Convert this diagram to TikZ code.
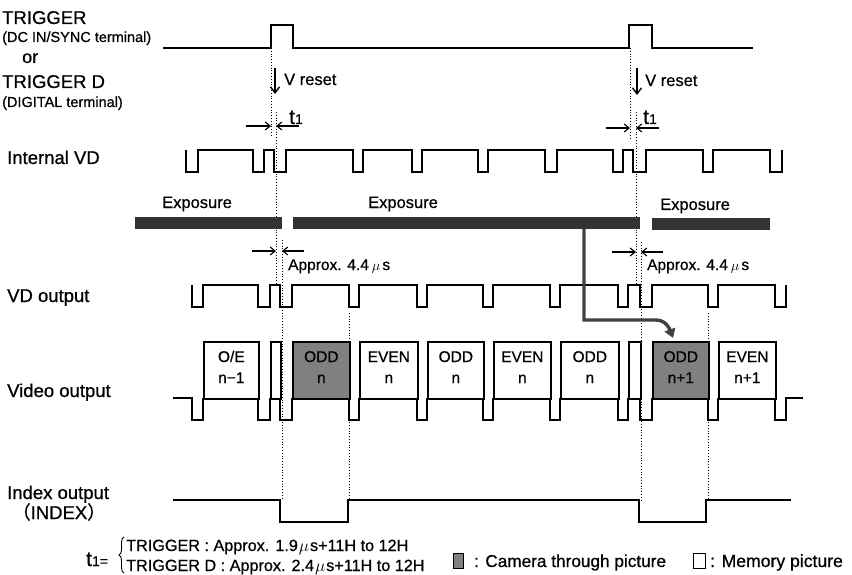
\documentclass[tikz,border=0pt]{standalone}
\usepackage{fontspec}
\setmainfont{Liberation Sans}[UprightFeatures={FakeBold=0.7}]
\newfontfamily\cjkfont{Noto Sans CJK JP}[FakeBold=0.7]
\usetikzlibrary{arrows.meta,decorations.pathreplacing}
\newcommand\myfs[1]{\fontsize{#1}{#1}\selectfont}
\begin{document}
\begin{tikzpicture}[x=1pt,y=-1pt,
  wave/.style={line width=1.7pt, line join=miter},
  guide/.style={line width=0.8pt, dotted},
  dimarrow/.style={line width=1.1pt, -{Straight Barb[length=5pt,width=8pt]}},
  lbl/.style={inner sep=0pt, anchor=base west, font=\myfs{18.5}},
  sml/.style={inner sep=0pt, anchor=base west, font=\myfs{14.5}},
  mid/.style={inner sep=0pt, anchor=base west, font=\myfs{16.5}},
  boxtxt/.style={inner sep=0pt, anchor=base, font=\myfs{15.5}},
  vbox/.style={draw, line width=1.7pt, inner sep=0pt, anchor=north west, minimum height=57},
  shaded/.style={vbox, fill=black!50},
  expobar/.style={fill=black!80, inner sep=0pt, minimum height=12, anchor=north west},
  fatarrow/.style={line width=3.4pt, draw=black!75, -{Triangle[length=9pt,width=11pt]}}
]
\useasboundingbox (0,0) rectangle (852,575);

% ---------- left labels ----------
\node[lbl, font=\myfs{18.5}] (lTrig) at (2,24) {TRIGGER};
\node[sml] (lDC) at (2,42) {(DC IN/SYNC terminal)};
\node[lbl, font=\myfs{18}] (lOr) at (22,63) {or};
\node[lbl, font=\myfs{18.5}] (lTrigD) at (2,88) {TRIGGER D};
\node[sml] (lDig) at (2,107) {(DIGITAL terminal)};
\node[lbl] (lIVD) at (7,164) {Internal VD};
\node[lbl] (lVD) at (7,302) {VD output};
\node[lbl] (lVid) at (7,397) {Video output};
\node[lbl] (lIdx) at (7,499) {Index output};
\node[lbl] (lIdx2) at (12,519) {{\cjkfont （}INDEX{\cjkfont ）}};

% ---------- trigger ----------
\draw[wave] (163,48) -| (271,25) -| (293,48) -| (629,25) -| (652,48) -- (753,48);

% ---------- guide lines ----------
\draw[guide] (271,48) -- (271,136);
\draw[guide] (276,112) -- (276,285);
\draw[guide] (282,240) -- (282,500);
\draw[guide] (349,313) -- (349,500);
\draw[guide] (630,48) -- (630,138);
\draw[guide] (636,112) -- (636,285);
\draw[guide] (641,242) -- (641,500);
\draw[guide] (708,313) -- (708,500);

% ---------- V reset ----------
\coordinate (vr1s) at (275,68); \coordinate (vr1e) at (275,94);
\draw[line width=1.4pt, -{Straight Barb[length=6pt,width=9pt]}] (vr1s) -- (vr1e);
\node[mid] (vr1) at (284,85) {V reset};
\coordinate (vr2s) at (637,68); \coordinate (vr2e) at (637,95);
\draw[line width=1.4pt, -{Straight Barb[length=6pt,width=9pt]}] (vr2s) -- (vr2e);
\node[mid] (vr2) at (645,86) {V reset};

% ---------- t1 ----------
\coordinate (ta1) at (246,126); \coordinate (tb1) at (271,126);
\coordinate (tc1) at (299,126); \coordinate (td1) at (276,126);
\draw[dimarrow] (ta1) -- (tb1);
\draw[dimarrow] (tc1) -- (td1);
\node[inner sep=0pt, anchor=base west] (t1a) at (289,124) {\myfs{21}t\myfs{14}1};
\coordinate (ta2) at (606,128); \coordinate (tb2) at (630,128);
\coordinate (tc2) at (659,128); \coordinate (td2) at (636,128);
\draw[dimarrow] (ta2) -- (tb2);
\draw[dimarrow] (tc2) -- (td2);
\node[inner sep=0pt, anchor=base west] (t1b) at (643,124) {\myfs{21}t\myfs{14}1};

% ---------- internal VD ----------
\draw[wave] (186,150) |- (198,172) |- (253,150) |- (264,172) |- (274,150) |- (286,172)
  |- (353,150) |- (363,172) |- (412,150) |- (422,172) |- (478,150) |- (488,172)
  |- (545,150) |- (557,172) |- (613,150) |- (623,172) |- (633,150) |- (646,172)
  |- (703,150) |- (713,172) |- (770,150) |- (782,172) -- (782,150);

% ---------- exposure ----------
\node[mid] (ex1) at (162,208) {Exposure};
\node[mid] (ex2) at (368,208) {Exposure};
\node[mid] (ex3) at (660,210) {Exposure};
\node[expobar, minimum width=147] (e1) at (135,217) {};
\node[expobar, minimum width=347] (e2) at (293,217) {};
\node[expobar, minimum width=118] (e3) at (652,218) {};

% ---------- approx 4.4 us ----------
\coordinate (aa1) at (252,251); \coordinate (ab1) at (276,251);
\coordinate (ac1) at (304,251); \coordinate (ad1) at (282,251);
\draw[dimarrow] (aa1) -- (ab1);
\draw[dimarrow] (ac1) -- (ad1);
\node[mid, font=\myfs{15.5}] (ap1) at (288,270) {Approx. 4.4\hspace{3pt}$\mu$\hspace{2pt}s};
\coordinate (aa2) at (612,252); \coordinate (ab2) at (636,252);
\coordinate (ac2) at (663,252); \coordinate (ad2) at (641,252);
\draw[dimarrow] (aa2) -- (ab2);
\draw[dimarrow] (ac2) -- (ad2);
\node[mid, font=\myfs{15.5}] (ap2) at (647,270) {Approx. 4.4\hspace{3pt}$\mu$\hspace{2pt}s};

% ---------- VD output ----------
\draw[wave] (192,285) |- (203,307) |- (258,285) |- (270,307) |- (280,285) |- (292,307)
  |- (349,285) |- (359,307) |- (417,285) |- (427,307) |- (483,285) |- (493,307)
  |- (550,285) |- (560,307) |- (618,285) |- (628,307) |- (640,285) |- (652,307)
  |- (708,285) |- (718,307) |- (775,285) |- (786,307) -- (786,285);

% ---------- video output ----------
\draw[wave] (173,398) -| (192,420) -| (203,398);
\foreach \r/\l in {258/270,280/292,349/359,417/427,483/493,550/560,618/628,640/652,708/718}
  \draw[wave] (\r,398) |- (\l,420) -- (\l,398);
\draw[wave] (775,398) |- (786,420) |- (803,398);

\node[vbox, minimum width=55] (b1) at (203,341) {};
\node[vbox, minimum width=10] (b2) at (270,341) {};
\node[shaded, minimum width=57] (b3) at (292,341) {};
\node[vbox, minimum width=58] (b4) at (359,341) {};
\node[vbox, minimum width=56] (b5) at (427,341) {};
\node[vbox, minimum width=57] (b6) at (493,341) {};
\node[vbox, minimum width=58] (b7) at (560,341) {};
\node[vbox, minimum width=12] (b8) at (628,341) {};
\node[shaded, minimum width=56] (b9) at (652,341) {};
\node[vbox, minimum width=57] (b10) at (718,341) {};

\node[boxtxt] (t1l1) at (b1.center |- 0,362) {O/E};
\node[boxtxt] (t1l2) at (b1.center |- 0,383) {n−1};
\node[boxtxt] (t3l1) at (b3.center |- 0,362) {ODD};
\node[boxtxt] (t3l2) at (b3.center |- 0,383) {n};
\node[boxtxt] (t4l1) at (b4.center |- 0,362) {EVEN};
\node[boxtxt] (t4l2) at (b4.center |- 0,383) {n};
\node[boxtxt] (t5l1) at (b5.center |- 0,362) {ODD};
\node[boxtxt] (t5l2) at (b5.center |- 0,383) {n};
\node[boxtxt] (t6l1) at (b6.center |- 0,362) {EVEN};
\node[boxtxt] (t6l2) at (b6.center |- 0,383) {n};
\node[boxtxt] (t7l1) at (b7.center |- 0,362) {ODD};
\node[boxtxt] (t7l2) at (b7.center |- 0,383) {n};
\node[boxtxt] (t9l1) at (b9.center |- 0,362) {ODD};
\node[boxtxt] (t9l2) at (b9.center |- 0,383) {n+1};
\node[boxtxt] (t10l1) at (b10.center |- 0,362) {EVEN};
\node[boxtxt] (t10l2) at (b10.center |- 0,383) {n+1};

% ---------- fat arrow ----------
\coordinate (fa0) at (584,229);
\coordinate (fa1) at (584,320);
\coordinate (fa2) at (656,320);
\coordinate (fa3) at (673,338);
\draw[fatarrow] (fa0) -- (fa1) -- (fa2) to[out=0,in=110] (fa3);

% ---------- index ----------
\draw[wave] (173,500) -| (280,522) -| (348,500) -| (639,522) -| (706,500) -- (791,500);

% ---------- bottom notes ----------
\node[inner sep=0pt, anchor=base west] (teq) at (86,566) {\myfs{21}t\myfs{14}1=};
\draw[line width=0.9pt, decorate, decoration={brace, amplitude=5pt}] (124,573) -- (124,537);
\node[inner sep=0pt, anchor=base west, font=\myfs{16.2}] (n1) at (126,551) {TRIGGER : Approx. 1.9\hspace{1pt}$\mu$\hspace{1pt}s+11H to 12H};
\node[inner sep=0pt, anchor=base west, font=\myfs{16.2}] (n2) at (126,571) {TRIGGER D : Approx. 2.4\hspace{1pt}$\mu$\hspace{1pt}s+11H to 12H};

\node[draw, line width=0.8pt, fill=black!50, inner sep=0pt, minimum width=10, minimum height=15] (lg1) at (458,560.5) {};
\node[inner sep=0pt, anchor=base west, font=\myfs{17.2}] (lg1t) at (474,567) {: Camera through picture};
\node[draw, line width=1pt, inner sep=0pt, minimum width=12, minimum height=15] (lg2) at (699,560.5) {};
\node[inner sep=0pt, anchor=base west, font=\myfs{17.6}] (lg2t) at (710,567) {: Memory picture};
\end{tikzpicture}
\end{document}
